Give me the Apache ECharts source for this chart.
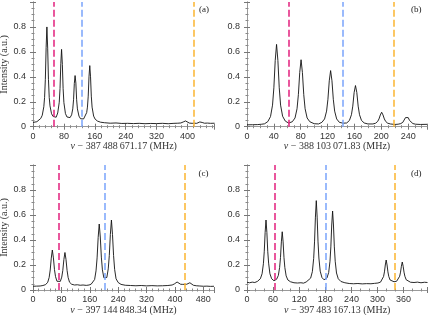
<!DOCTYPE html>
<html><head><meta charset="utf-8">
<script src="https://cdn.jsdelivr.net/npm/echarts@6/dist/echarts.min.js"></script>
<style>html,body{margin:0;padding:0;background:#fff}#c{width:431px;height:315px}</style>
</head><body><div id="c"></div>
<script>
// ---- data ----
const aX=[0,5,10,15,20,24,28,30,32,34,36,38,40,42,44,48,52,56,60,64,68,70,72,74,76,78,80,84,88,92,96,100,103,105,107,109,111,113,115,119,123,127,131,135,139,141,143,145,147,149,151,153,157,161,167,175,185,200,215,230,245,260,275,290,305,320,335,350,365,375,383,389,392,395,399,405,412,418,424,429,432,435,438,444,452,460,470];
const aY=[0.034,0.036,0.040,0.050,0.066,0.092,0.160,0.235,0.380,0.635,0.800,0.630,0.380,0.235,0.167,0.104,0.082,0.070,0.076,0.110,0.196,0.307,0.505,0.620,0.500,0.305,0.193,0.105,0.078,0.069,0.073,0.095,0.143,0.216,0.347,0.410,0.350,0.216,0.143,0.085,0.064,0.058,0.062,0.075,0.113,0.157,0.245,0.400,0.490,0.400,0.245,0.157,0.085,0.060,0.045,0.036,0.032,0.028,0.030,0.026,0.027,0.025,0.027,0.024,0.026,0.025,0.027,0.024,0.027,0.028,0.030,0.038,0.043,0.046,0.036,0.029,0.027,0.028,0.027,0.031,0.038,0.042,0.034,0.028,0.029,0.027,0.028];
const bX=[0,8,16,22,26,31,35,38,40,42,44,46,48,50,53,57,62,67.5,71.5,74.5,76.5,78.5,80.5,82.5,84.5,86.5,89.5,93.5,100,106.5,111.5,115.5,118.5,120.5,122.5,124.5,126.5,128.5,130.5,133.5,137.5,143,148.5,152.5,155.5,157.5,159.5,161.5,163.5,165.5,167.5,170.5,174.5,180,187.5,191.5,194.5,196.5,198.5,200.5,202.5,204.5,206.5,209.5,213.5,220,225,229,232,234,236,238,240,242,244,247,251,258,268];
const bY=[0.015,0.016,0.017,0.020,0.023,0.041,0.081,0.173,0.312,0.530,0.660,0.530,0.312,0.173,0.084,0.045,0.029,0.040,0.070,0.144,0.257,0.434,0.537,0.434,0.257,0.144,0.070,0.040,0.024,0.022,0.035,0.062,0.125,0.220,0.368,0.450,0.368,0.220,0.125,0.062,0.035,0.028,0.030,0.050,0.096,0.165,0.274,0.330,0.274,0.165,0.096,0.050,0.030,0.022,0.022,0.028,0.042,0.062,0.094,0.116,0.094,0.062,0.042,0.028,0.022,0.018,0.020,0.025,0.035,0.050,0.073,0.089,0.073,0.050,0.035,0.025,0.020,0.018,0.019];
const cX=[0,10,20,28,35.5,41.5,45.5,48.5,51.5,54.5,57.5,60.5,63.5,67.5,72,77,81,84,87,90,93,96,99,103,109,117,125,133,141,150,158,164,168,173.6,177.6,180.6,183.6,186.6,189.6,192.6,195.6,199.6,204,208,212,215,218,221,224,227,230,234,240,248,260,275,290,305,320,335,350,365,380,392,398,402,406,410,416,422,427,433,438,442,446,452,460,470,480,490,500,510];
const cY=[0.030,0.031,0.032,0.036,0.043,0.062,0.100,0.160,0.255,0.320,0.257,0.163,0.107,0.070,0.061,0.069,0.103,0.157,0.244,0.300,0.244,0.157,0.100,0.062,0.046,0.040,0.042,0.038,0.040,0.037,0.040,0.047,0.060,0.084,0.153,0.257,0.420,0.528,0.424,0.263,0.161,0.098,0.082,0.100,0.169,0.276,0.445,0.560,0.445,0.276,0.165,0.090,0.060,0.045,0.038,0.036,0.034,0.036,0.033,0.035,0.033,0.034,0.036,0.040,0.048,0.058,0.064,0.056,0.046,0.045,0.042,0.046,0.053,0.058,0.050,0.038,0.034,0.032,0.030,0.031,0.029,0.030];
const dX=[0,6,12,18,24,30.7,34.7,37.7,39.7,41.7,43.7,45.7,47.7,49.7,52.7,56.7,62,68,72,75,77,79,81,83,85,87,90,94,100,108,116,124,130,136,140.3,146.3,150.3,153.3,155.3,157.3,159.3,161.3,163.3,165.3,168.3,172.3,177,180,183.8,187.8,190.8,192.8,194.8,196.8,198.8,200.8,202.8,205.8,209.8,216,225,235,245,255,265,275,285,293,301,307,311,314,316,318,320,322,324,326,329,333,338,344,348,351,353,355,357,359,361,363,366,370,376,384,392,400,408,415];
const dY=[0.062,0.058,0.063,0.060,0.069,0.090,0.130,0.210,0.310,0.460,0.560,0.460,0.310,0.215,0.130,0.090,0.074,0.086,0.116,0.180,0.260,0.385,0.466,0.385,0.260,0.180,0.113,0.080,0.066,0.058,0.056,0.058,0.055,0.064,0.068,0.095,0.147,0.253,0.385,0.583,0.715,0.583,0.385,0.256,0.151,0.100,0.082,0.085,0.096,0.140,0.230,0.345,0.520,0.632,0.520,0.345,0.230,0.136,0.090,0.068,0.058,0.052,0.050,0.052,0.049,0.051,0.050,0.053,0.056,0.063,0.078,0.108,0.145,0.200,0.240,0.200,0.145,0.108,0.080,0.066,0.066,0.070,0.082,0.110,0.143,0.190,0.224,0.190,0.143,0.110,0.082,0.070,0.062,0.060,0.063,0.058,0.062,0.060];
// reference frequencies (magenta, blue, orange)
const aRef=[55,127,415];
const bRef=[62,143,218];
const cRef=[72,203.5,426.6];
const dRef=[62.8,180,338.6];
// x axis ranges / tick steps
const xMaxes=[470,268,510,415];
const xSteps=[80,40,80,60];
const panelLabels=['(a)','(b)','(c)','(d)'];
const offsets=['387\u2009488\u2009671.17','388\u2009103\u2009071.83','397\u2009144\u2009848.34','397\u2009483\u2009167.13'];
const yTitle='Intensity (a.u.)';

// ---- layout ----
const refColors=['#e2207d','#7aa4fb','#fbb530'];
const grids=[
  {left:33,top:2,width:181.5,height:124.7},
  {left:247,top:2,width:180,height:124.7},
  {left:33,top:165,width:181,height:125},
  {left:247,top:165,width:180.5,height:125}
];
const nameGaps=[13,13,10,10];
const minorSplit=[5,4,5,3];
const letterPos=[[199,5],[411,5],[198.5,169],[411,169]];
const X=[aX,bX,cX,dX], Y=[aY,bY,cY,dY], R=[aRef,bRef,cRef,dRef];

const frame='#9a9a9a';
const lbl={fontFamily:'Liberation Sans',fontSize:9,color:'#333'};
const xAxis=[],yAxis=[],series=[],title=[];
grids.forEach((g,i)=>{
  const common={type:'value',gridIndex:i,min:0,max:xMaxes[i],interval:xSteps[i],
    axisLine:{show:true,lineStyle:{color:frame,width:1}},
    axisTick:{show:true,inside:true,length:3,lineStyle:{color:'#777'}},
    minorTick:{show:true,splitNumber:minorSplit[i],length:1.5,lineStyle:{color:'#888'}},
    splitLine:{show:false}};
  xAxis.push(Object.assign({},common,{position:'bottom',
    axisLabel:Object.assign({margin:5,showMaxLabel:false},lbl),
    name:'{i|\u03bd} \u2212 '+offsets[i]+' (MHz)',nameLocation:'middle',nameGap:nameGaps[i],
    nameTextStyle:{fontFamily:'Liberation Serif',fontSize:10,color:'#333',
      rich:{i:{fontFamily:'Liberation Serif',fontStyle:'italic',fontSize:10,color:'#333'}}}}));
  xAxis.push(Object.assign({},common,{position:'top',axisLabel:{show:false}}));
  const ycommon={type:'value',gridIndex:i,min:0,max:1,interval:0.2,
    axisLine:{show:true,lineStyle:{color:frame,width:1}},
    axisTick:{show:true,inside:true,length:3,lineStyle:{color:'#777'}},
    minorTick:{show:true,splitNumber:4,length:1.5,lineStyle:{color:'#888'}},
    splitLine:{show:false}};
  const yl=Object.assign({},ycommon,{position:'left',
    axisLabel:Object.assign({margin:7,showMaxLabel:false},lbl)});
  if(i%2===0){
    yl.name=yTitle;yl.nameLocation='middle';yl.nameGap=16;
    yl.nameTextStyle={fontFamily:'Liberation Serif',fontSize:10,color:'#333'};
  }
  yAxis.push(yl);
  yAxis.push(Object.assign({},ycommon,{position:'right',axisLabel:{show:false}}));
  series.push({type:'line',xAxisIndex:2*i,yAxisIndex:2*i,
    data:X[i].map((x,k)=>[x,Y[i][k]]),
    showSymbol:false,symbol:'none',lineStyle:{color:'#111',width:0.9},
    markLine:{silent:true,symbol:['none','none'],label:{show:false},animation:false,
      data:R[i].map((v,j)=>({xAxis:v,lineStyle:{color:refColors[j],type:[7,3],width:1.5}}))}});
  title.push({text:panelLabels[i],left:letterPos[i][0],top:letterPos[i][1],padding:0,
    textStyle:{fontFamily:'Liberation Serif',fontSize:9,fontWeight:'normal',color:'#222'}});
});

const chart=echarts.init(document.getElementById('c'),null,{renderer:'canvas'});
chart.setOption({animation:false,backgroundColor:'#fff',
  grid:grids.map(g=>Object.assign({containLabel:false,outerBoundsMode:'none'},g)),
  xAxis,yAxis,series,title});
</script></body></html>
